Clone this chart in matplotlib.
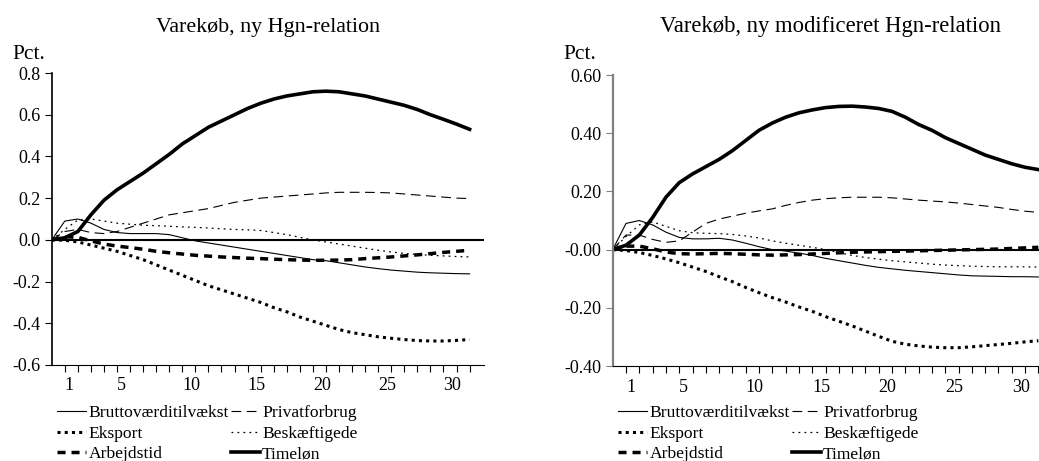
import numpy as np
import matplotlib
matplotlib.use("Agg")
import matplotlib.pyplot as plt

plt.rcParams['font.family'] = ['Liberation Serif', 'DejaVu Serif']
plt.rcParams['lines.scale_dashes'] = False
plt.rcParams['axes.unicode_minus'] = False

periods = np.arange(0, 33)

# venstre panel: Varekøb, ny Hgn-relation
brutto_a = [0, 0.09, 0.10, 0.08, 0.05, 0.035, 0.03, 0.03, 0.03, 0.025, 0.01,
            -0.005, -0.015, -0.025, -0.035, -0.045, -0.055, -0.065, -0.075, -0.085, -0.095,
            -0.10, -0.11, -0.12, -0.13, -0.138, -0.145, -0.15, -0.155, -0.158, -0.16,
            -0.162, -0.163]
privat_a = [0, 0.04, 0.05, 0.035, 0.03, 0.04, 0.06, 0.08, 0.10, 0.12, 0.13,
            0.14, 0.15, 0.165, 0.18, 0.19, 0.20, 0.205, 0.21, 0.215, 0.22,
            0.225, 0.228, 0.228, 0.228, 0.227, 0.225, 0.22, 0.215, 0.21, 0.205,
            0.20, 0.198]
eksport_a = [0, -0.002, -0.01, -0.025, -0.04, -0.055, -0.075, -0.095, -0.12, -0.145, -0.17,
             -0.195, -0.22, -0.24, -0.26, -0.28, -0.30, -0.325, -0.345, -0.37, -0.39,
             -0.41, -0.43, -0.445, -0.455, -0.465, -0.472, -0.478, -0.483, -0.485, -0.485,
             -0.482, -0.478]
beskaeft_a = [0, 0.05, 0.095, 0.10, 0.09, 0.08, 0.075, 0.07, 0.068, 0.065, 0.062,
              0.06, 0.057, 0.053, 0.05, 0.048, 0.045, 0.035, 0.025, 0.012, 0.0,
              -0.01, -0.02, -0.03, -0.04, -0.05, -0.058, -0.065, -0.07, -0.074, -0.077,
              -0.08, -0.082]
arbejd_a = [0, 0.015, 0.012, -0.005, -0.02, -0.03, -0.037, -0.045, -0.055, -0.062, -0.068,
            -0.074, -0.078, -0.082, -0.085, -0.088, -0.09, -0.093, -0.095, -0.097, -0.098,
            -0.098, -0.097, -0.095, -0.09, -0.086, -0.082, -0.077, -0.072, -0.066, -0.06,
            -0.055, -0.05]
timeloen_a = [0, 0.01, 0.04, 0.12, 0.19, 0.24, 0.28, 0.32, 0.365, 0.41, 0.46,
              0.50, 0.54, 0.57, 0.60, 0.63, 0.655, 0.675, 0.69, 0.70, 0.71,
              0.713, 0.71, 0.70, 0.69, 0.675, 0.66, 0.645, 0.625, 0.60, 0.578,
              0.555, 0.53]

# højre panel: Varekøb, ny modificeret Hgn-relation
brutto_b = [0, 0.09, 0.10, 0.085, 0.06, 0.042, 0.037, 0.037, 0.039, 0.033, 0.022,
            0.01, 0.0, -0.005, -0.012, -0.02, -0.03, -0.038, -0.046, -0.054, -0.061,
            -0.066, -0.071, -0.075, -0.079, -0.083, -0.087, -0.09, -0.091, -0.092, -0.093,
            -0.093, -0.094]
privat_b = [0, 0.05, 0.05, 0.035, 0.025, 0.03, 0.06, 0.09, 0.105, 0.115, 0.125,
            0.133, 0.14, 0.152, 0.162, 0.17, 0.175, 0.178, 0.18, 0.18, 0.18,
            0.178, 0.174, 0.17, 0.167, 0.164, 0.16, 0.155, 0.15, 0.145, 0.138,
            0.132, 0.128]
eksport_b = [0, -0.003, -0.01, -0.02, -0.032, -0.045, -0.06, -0.075, -0.093, -0.11, -0.13,
             -0.148, -0.165, -0.18, -0.197, -0.212, -0.23, -0.246, -0.262, -0.28, -0.298,
             -0.315, -0.325, -0.331, -0.335, -0.337, -0.337, -0.334, -0.33, -0.326, -0.322,
             -0.317, -0.313]
beskaeft_b = [0, 0.045, 0.085, 0.095, 0.08, 0.065, 0.058, 0.056, 0.055, 0.052, 0.047,
              0.04, 0.03, 0.022, 0.015, 0.008, 0.0, -0.01, -0.02, -0.027, -0.033,
              -0.038, -0.042, -0.046, -0.05, -0.053, -0.055, -0.057, -0.058, -0.059, -0.059,
              -0.059, -0.06]
arbejd_b = [0, 0.012, 0.012, 0.003, -0.008, -0.014, -0.015, -0.014, -0.013, -0.014, -0.016,
            -0.018, -0.019, -0.018, -0.017, -0.015, -0.013, -0.011, -0.009, -0.008, -0.007,
            -0.006, -0.005, -0.004, -0.003, -0.002, -0.001, 0.0, 0.001, 0.002, 0.004,
            0.006, 0.008]
timeloen_b = [0, 0.015, 0.05, 0.11, 0.18, 0.23, 0.26, 0.285, 0.31, 0.34, 0.375,
              0.41, 0.435, 0.455, 0.47, 0.48, 0.488, 0.492, 0.493, 0.49, 0.485,
              0.475, 0.455, 0.43, 0.41, 0.385, 0.365, 0.345, 0.325, 0.31, 0.295,
              0.283, 0.275]

titles = ['Varekøb, ny Hgn-relation', 'Varekøb, ny modificeret Hgn-relation']
series_names = ['Bruttoværditilvækst', 'Privatforbrug', 'Eksport',
                'Beskæftigede', 'Arbejdstid', 'Timeløn']
xtick_labels = {1: '1', 5: '5', 10: '10', 15: '15', 20: '20', 25: '25', 30: '30'}
yticks_a = [-0.6, -0.4, -0.2, 0.0, 0.2, 0.4, 0.6, 0.8]
yticklabels_a = ['-0.6', '-0.4', '-0.2', '0.0', '0.2', '0.4', '0.6', '0.8']
yticks_b = [-0.4, -0.2, 0.0, 0.2, 0.4, 0.6]
yticklabels_b = ['-0.40', '-0.20', '-0.00', '0.20', '0.40', '0.60']

styles = {
    'Bruttoværditilvækst': dict(lw=0.8, ls='-'),
    'Privatforbrug': dict(lw=0.8, ls=(0, (7, 4))),
    'Eksport': dict(lw=2.2, ls=(0, (2.2, 3.0)), dash_capstyle='butt'),
    'Beskæftigede': dict(lw=0.9, ls=(0, (1.3, 3.0))),
    'Arbejdstid': dict(lw=2.5, ls=(0, (5.8, 4.3)), dash_capstyle='butt'),
    'Timeløn': dict(lw=2.6, ls='-'),
}

fig = plt.figure(figsize=(10.39, 4.61), dpi=100)
ax1 = fig.add_axes([0.0498, 0.2083, 0.416, 0.6333])
ax2 = fig.add_axes([0.5897, 0.2060, 0.4103, 0.6313])

panels = [
    (ax1, [brutto_a, privat_a, eksport_a, beskaeft_a, arbejd_a, timeloen_a],
     (-0.6, 0.8), yticks_a, yticklabels_a, 33.1, 'black', 268, 57, 15.8),
    (ax2, [brutto_b, privat_b, eksport_b, beskaeft_b, arbejd_b, timeloen_b],
     (-0.4, 0.6), yticks_b, yticklabels_b, 32.05, '#808080', 830, 618, 16.3),
]

for i, (ax, data, ylim, yt, ytl, xmax, spine_col, title_x, leg_x, title_fs) in enumerate(panels):
    ax.axhline(0, color='black', lw=1.5, zorder=1)
    handles = {}
    for name, vals in zip(series_names, data):
        h, = ax.plot(periods, vals, color='black', label=name, **styles[name])
        handles[name] = h
    ax.set_xlim(0, xmax)
    ax.set_ylim(*ylim)
    ax.set_yticks(yt)
    ax.set_yticklabels(ytl)
    ticks = np.arange(1, 33)
    ax.set_xticks(ticks)
    ax.set_xticklabels([xtick_labels.get(t, '') for t in ticks], ha='left')
    ax.tick_params(axis='both', labelsize=13, length=5, width=0.8, direction='out', colors='black')
    ax.tick_params(axis='x', pad=4)
    ax.tick_params(axis='y', pad=3, color=spine_col)
    for s in ['top', 'right']:
        ax.spines[s].set_visible(False)
    ax.spines['left'].set_color(spine_col)
    ax.spines['left'].set_linewidth(1.2 if i == 0 else 1.6)
    ax.spines['bottom'].set_linewidth(0.8)

    fig.text(title_x / 1039, 1 - 32 / 461, titles[i], ha='center', va='baseline', fontsize=title_fs)
    fig.text((12 if i == 0 else 563) / 1039, 1 - 59 / 461, 'Pct.', ha='left', va='baseline', fontsize=15.5)

    order = ['Bruttoværditilvækst', 'Eksport', 'Arbejdstid',
             'Privatforbrug', 'Beskæftigede', 'Timeløn']
    fig.legend([handles[n] for n in order], order, loc='upper left',
               bbox_to_anchor=(leg_x / 1039, 1 - 405 / 461), ncol=2, frameon=False,
               fontsize=12.6, handlelength=1.65, handletextpad=0.15, columnspacing=0.1,
               labelspacing=0.24, borderpad=0, borderaxespad=0)

fig.savefig('out.png', dpi=100)
